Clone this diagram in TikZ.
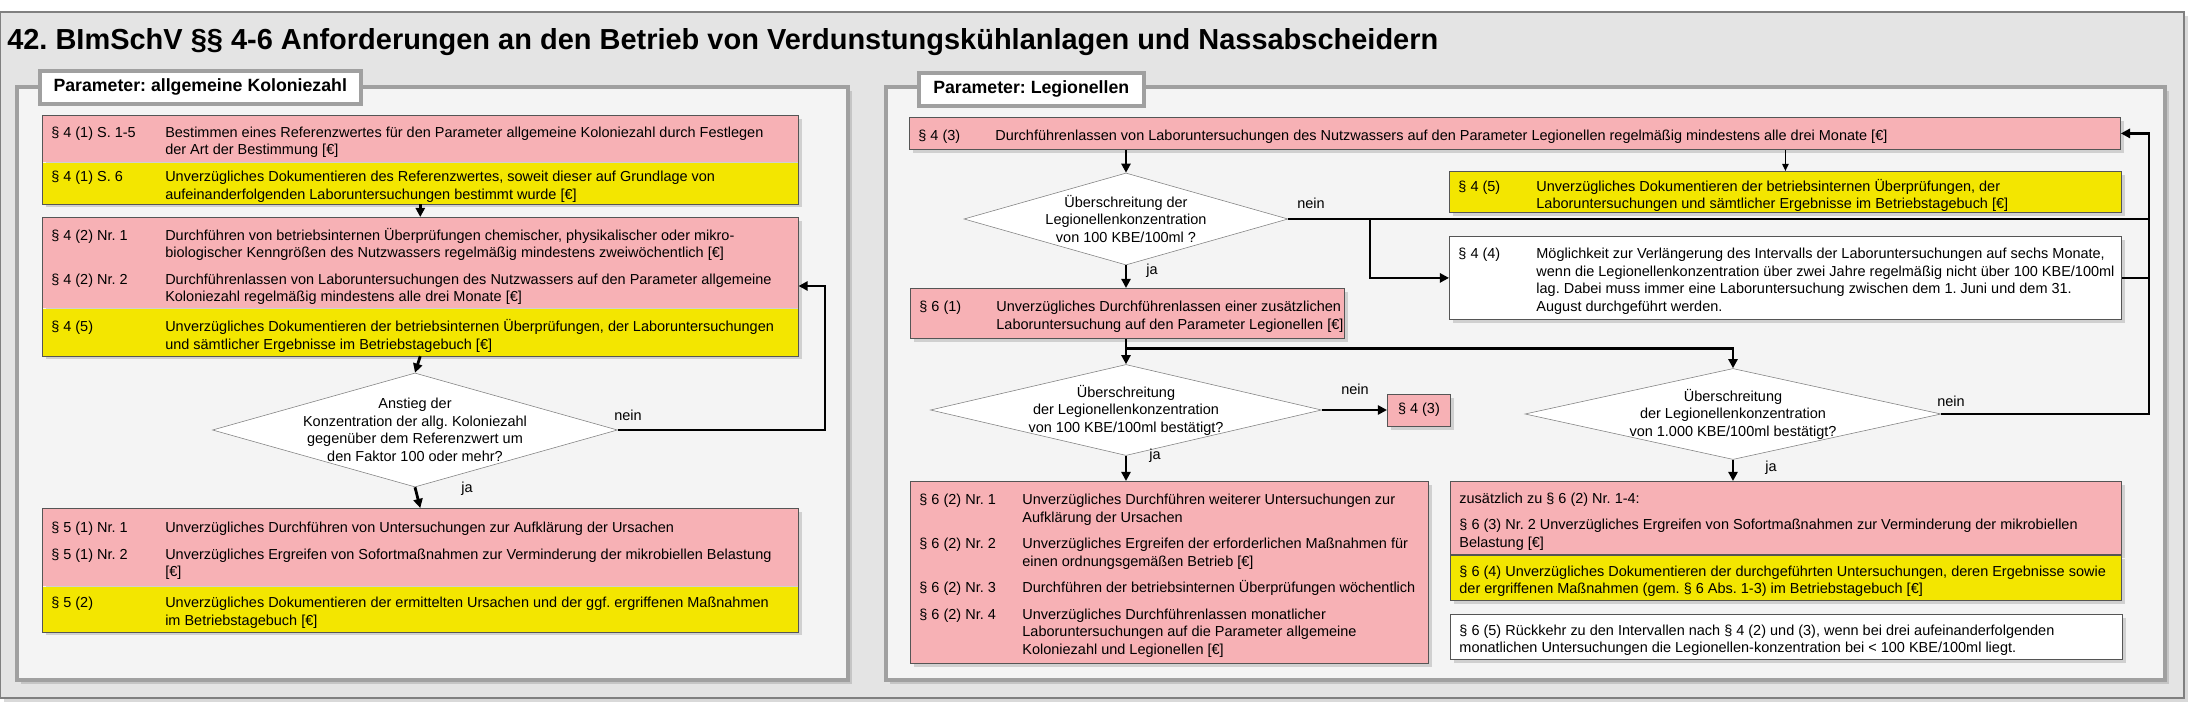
\documentclass[tikz,border=0pt]{standalone}
\usepackage{fontspec}
\setmainfont{Liberation Sans}
\usetikzlibrary{arrows.meta,shapes.geometric,shadows}
\frenchspacing
\newdimen\pix \pix=0.025cm
\definecolor{rosa}{RGB}{247,177,181}
\definecolor{gelb}{RGB}{243,230,0}
\definecolor{rahmen}{RGB}{228,228,228}
\definecolor{feld}{RGB}{244,244,244}
\definecolor{feldrand}{RGB}{160,160,160}
\definecolor{kante}{RGB}{85,85,85}
\newcommand{\lab}[2][114]{\makebox[#1\pix][l]{#2}}
\newcommand{\inhalt}[2]{\parbox{#1\pix}{\raggedright\vspace*{7\pix}#2}}
\begin{document}
\begin{tikzpicture}[x=0.025cm,y=-0.025cm,
  txt/.style={font=\fontsize{10.3}{12.45}\selectfont},
  schatten/.style={drop shadow={shadow xshift=2.5pt,shadow yshift=-2.5pt,opacity=.3}},
  teil/.style={txt,anchor=north west,inner xsep=6.4pt,inner ysep=0pt,schatten},
  kasten/.style={teil,draw=kante,line width=.6pt},
  umriss/.style={draw=kante,line width=.6pt},
  raute/.style={diamond,draw=gray,fill=white,inner sep=0pt},
  rautetext/.style={txt,align=center,inner sep=0pt},
  kopf/.style={anchor=north west,fill=white,draw=feldrand,line width=2.5pt,
    font=\bfseries\fontsize{12.6}{15}\selectfont},
  panel/.style={fill=feld,draw=feldrand,line width=2.5pt,schatten},
  marke/.style={txt,anchor=west,inner sep=0pt},
  linie/.style={line width=2pt},
  pfeil/.style={linie,-{Triangle[length=6.5pt,width=6.5pt]}},
  duenn/.style={line width=.8pt,-{Triangle[length=5pt,width=4.5pt]}}]
\useasboundingbox (0,0) rectangle (2202,714);
\draw[fill=rahmen,draw=gray,line width=1pt,schatten] (0,12) rectangle (2184,698);
\node[anchor=base west,inner sep=0pt,font=\bfseries\fontsize{20.6}{24}\selectfont] (titel) at (7,50)
  {42. BImSchV §§ 4-6 Anforderungen an den Betrieb von Verdunstungskühlanlagen und Nassabscheidern};

% Koloniezahl
\draw[panel] (17,87) rectangle (848,680);
\node[kopf,minimum width=321*\pix,minimum height=33*\pix] (kopfL) at (38,69) {Parameter: allgemeine Koloniezahl};

\node[teil,fill=rosa,minimum height=47*\pix] (a1) at (42,115)
  {\inhalt{738}{\lab{§ 4 (1) S. 1-5}\mbox{Bestimmen eines Referenzwertes für den Parameter allgemeine Koloniezahl durch Festlegen}\\\lab{}\mbox{der Art der Bestimmung [€]}}};
\node[teil,fill=gelb,minimum height=41*\pix] (a2) at (a1.south west)
  {\inhalt{738}{\lab{§ 4 (1) S. 6}\mbox{Unverzügliches Dokumentieren des Referenzwertes, soweit dieser auf Grundlage von}\\\lab{}\mbox{aufeinanderfolgenden Laboruntersuchungen bestimmt wurde [€]}}};
\draw[umriss] (a1.north west) rectangle (a2.south east);

\node[teil,fill=rosa,minimum height=91*\pix] (b1) at (42,217)
  {\inhalt{738}{\lab{§ 4 (2) Nr. 1}\mbox{Durchführen von betriebsinternen Überprüfungen chemischer, physikalischer oder mikro-}\\\lab{}\mbox{biologischer Kenngrößen des Nutzwassers regelmäßig mindestens zweiwöchentlich [€]}\\[9\pix]
  \lab{§ 4 (2) Nr. 2}\mbox{Durchführenlassen von Laboruntersuchungen des Nutzwassers auf den Parameter allgemeine}\\\lab{}\mbox{Koloniezahl regelmäßig mindestens alle drei Monate [€]}}};
\node[teil,fill=gelb,minimum height=47*\pix] (b2) at (b1.south west)
  {\inhalt{738}{\lab{§ 4 (5)}\mbox{Unverzügliches Dokumentieren der betriebsinternen Überprüfungen, der Laboruntersuchungen}\\\lab{}\mbox{und sämtlicher Ergebnisse im Betriebstagebuch [€]}}};
\draw[umriss] (b1.north west) rectangle (b2.south east);

\node[raute,minimum width=405*\pix,minimum height=114*\pix] (d1) at (415,430) {};
\node[rautetext] (d1t) at (d1.center) {Anstieg der\\Konzentration der allg. Koloniezahl\\gegenüber dem Referenzwert um\\den Faktor 100 oder mehr?};

\node[teil,fill=rosa,minimum height=78*\pix] (c1) at (42,508)
  {\inhalt{738}{\lab{§ 5 (1) Nr. 1}\mbox{Unverzügliches Durchführen von Untersuchungen zur Aufklärung der Ursachen}\\[9\pix]
  \lab{§ 5 (1) Nr. 2}\mbox{Unverzügliches Ergreifen von Sofortmaßnahmen zur Verminderung der mikrobiellen Belastung}\\\lab{}\mbox{[€]}}};
\node[teil,fill=gelb,minimum height=45*\pix] (c2) at (c1.south west)
  {\inhalt{738}{\lab{§ 5 (2)}\mbox{Unverzügliches Dokumentieren der ermittelten Ursachen und der ggf. ergriffenen Maßnahmen}\\\lab{}\mbox{im Betriebstagebuch [€]}}};
\draw[umriss] (c1.north west) rectangle (c2.south east);

\coordinate (schleifeL) at (825,286);
\draw[pfeil] (a2.south) -- (b1.north);
\draw[pfeil] (b2.south) -- (d1.north);
\draw[pfeil] (d1.south) -- (c1.north);
\draw[pfeil] (d1.east) -| (schleifeL) -- (b1.east |- schleifeL);
\node[marke] (neinL) at (614,415) {nein};
\node[marke] (jaL) at (461,489) {ja};

% Legionellen
\draw[panel] (886,87) rectangle (2165,680);
\node[kopf,minimum width=225*\pix,minimum height=33*\pix] (kopfR) at (917,71) {Parameter: Legionellen};

\node[kasten,fill=rosa,minimum height=32*\pix] (r1) at (909,117)
  {\inhalt{1193}{\lab[77]{§ 4 (3)}\mbox{Durchführenlassen von Laboruntersuchungen des Nutzwassers auf den Parameter Legionellen regelmäßig mindestens alle drei Monate [€]}}};
\node[kasten,fill=gelb,minimum height=41*\pix] (y1) at (1449,171)
  {\inhalt{654}{\lab[78]{§ 4 (5)}\mbox{Unverzügliches Dokumentieren der betriebsinternen Überprüfungen, der}\\\lab[78]{}\mbox{Laboruntersuchungen und sämtlicher Ergebnisse im Betriebstagebuch [€]}}};
\node[kasten,fill=white,minimum height=83*\pix] (w1) at (1449,236)
  {\inhalt{654}{\lab[78]{§ 4 (4)}\mbox{Möglichkeit zur Verlängerung des Intervalls der Laboruntersuchungen auf sechs Monate,}\\\lab[78]{}\mbox{wenn die Legionellenkonzentration über zwei Jahre regelmäßig nicht über 100 KBE/100ml}\\\lab[78]{}\mbox{lag. Dabei muss immer eine Laboruntersuchung zwischen dem 1. Juni und dem 31.}\\\lab[78]{}\mbox{August durchgeführt werden.}}};

\node[raute,minimum width=324*\pix,minimum height=92*\pix] (d2) at (1126,219) {};
\node[rautetext] (d2t) at (d2.center) {Überschreitung der\\Legionellenkonzentration\\von 100 KBE/100ml ?};

\node[kasten,fill=rosa,minimum height=50*\pix] (r2) at (910,288)
  {\inhalt{416}{\lab[77]{§ 6 (1)}\mbox{Unverzügliches Durchführenlassen einer zusätzlichen}\\\lab[77]{}\mbox{Laboruntersuchung auf den Parameter Legionellen [€]}}};

\node[raute,minimum width=391*\pix,minimum height=91*\pix] (d3) at (1126,410) {};
\node[rautetext] (d3t) at (d3.center) {Überschreitung\\der Legionellenkonzentration\\von 100 KBE/100ml bestätigt?};
\node[kasten,fill=rosa,anchor=west,inner xsep=0pt,minimum width=63*\pix,minimum height=32*\pix] (s43) at (1387,410) {§ 4 (3)};

\node[raute,minimum width=416*\pix,minimum height=91*\pix] (d4) at (1733,414) {};
\node[rautetext] (d4t) at (d4.center) {Überschreitung\\der Legionellenkonzentration\\von 1.000 KBE/100ml bestätigt?};

\node[kasten,fill=rosa,minimum height=182*\pix] (p62) at (910,481)
  {\inhalt{500}{\lab[103]{§ 6 (2) Nr. 1}\mbox{Unverzügliches Durchführen weiterer Untersuchungen zur}\\\lab[103]{}\mbox{Aufklärung der Ursachen}\\[9\pix]
  \lab[103]{§ 6 (2) Nr. 2}\mbox{Unverzügliches Ergreifen der erforderlichen Maßnahmen für}\\\lab[103]{}\mbox{einen ordnungsgemäßen Betrieb [€]}\\[9\pix]
  \lab[103]{§ 6 (2) Nr. 3}\mbox{Durchführen der betriebsinternen Überprüfungen wöchentlich}\\[9\pix]
  \lab[103]{§ 6 (2) Nr. 4}\mbox{Unverzügliches Durchführenlassen monatlicher}\\\lab[103]{}\mbox{Laboruntersuchungen auf die Parameter allgemeine}\\\lab[103]{}\mbox{Koloniezahl und Legionellen [€]}}};

\node[kasten,fill=rosa,minimum height=73*\pix] (z1) at (1450,481)
  {\inhalt{653}{\mbox{zusätzlich zu § 6 (2) Nr. 1-4:}\\[9\pix]
  \mbox{§ 6 (3) Nr. 2 Unverzügliches Ergreifen von Sofortmaßnahmen zur Verminderung der mikrobiellen}\\\mbox{Belastung [€]}}};
\node[kasten,fill=gelb,minimum height=45*\pix] (z2) at (z1.south west)
  {\inhalt{653}{\mbox{§ 6 (4) Unverzügliches Dokumentieren der durchgeführten Untersuchungen, deren Ergebnisse sowie}\\\mbox{der ergriffenen Maßnahmen (gem. § 6 Abs. 1-3) im Betriebstagebuch [€]}}};
\node[kasten,fill=white,minimum height=45*\pix] (w2) at (1450,614)
  {\inhalt{654}{\mbox{§ 6 (5) Rückkehr zu den Intervallen nach § 4 (2) und (3), wenn bei drei aufeinanderfolgenden}\\\mbox{monatlichen Untersuchungen die Legionellen-konzentration bei < 100 KBE/100ml liegt.}}};

\coordinate (rechts) at (2149,0);
\coordinate (abzweig) at (1370,0);
\draw[pfeil] (d2.north |- r1.south) -- (d2.north);
\draw[duenn] (y1.north |- r1.south) -- (y1.north);
\draw[linie] (d2.east) -- (d2.east -| rechts);
\draw[pfeil] (d2.east -| abzweig) |- (w1.west);
\draw[linie] (w1.east) -- (w1.east -| rechts);
\draw[pfeil] (d4.east) -- (d4.east -| rechts) |- (r1.east);
\draw[pfeil] (d2.south) -- (r2.north -| d2.south);
\draw[pfeil] (r2.south -| d3.north) -- (d3.north);
\draw[pfeil] (r2.south -| d3.north) ++(0,10) -| (d4.north);
\draw[pfeil] (d3.east) -- (s43.west);
\draw[pfeil] (d3.south) -- (d3.south |- p62.north);
\draw[pfeil] (d4.south) -- (d4.south |- z1.north);
\node[marke] (neinR1) at (1297,203) {nein};
\node[marke] (jaR1) at (1146,271) {ja};
\node[marke] (neinR2) at (1341,389) {nein};
\node[marke] (jaR2) at (1149,456) {ja};
\node[marke] (neinR3) at (1937,401) {nein};
\node[marke] (jaR3) at (1765,468) {ja};
\end{tikzpicture}
\end{document}
